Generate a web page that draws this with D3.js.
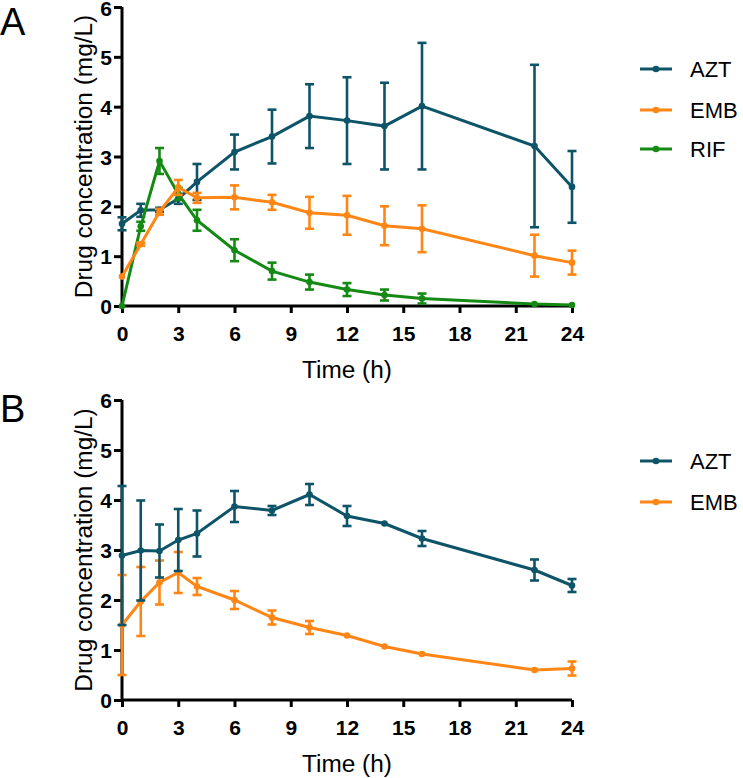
<!DOCTYPE html>
<html>
<head>
<meta charset="utf-8">
<script src="https://cdn.jsdelivr.net/npm/d3@7/dist/d3.min.js"></script>
<style>
  html, body { margin: 0; padding: 0; background: #fff; }
  svg { display: block; font-family: "Liberation Sans", Arial, sans-serif; }
</style>
</head>
<body>
<svg id="chart" width="743" height="778"></svg>
<script>
// ---------- data ----------
const times = [0, 1, 2, 3, 4, 6, 8, 10, 12, 14, 16, 22, 24];
const xTicks = [0, 3, 6, 9, 12, 15, 18, 21, 24];
const yTicks = [0, 1, 2, 3, 4, 5, 6];

// Panel A
const A_AZT_mean = [1.65, 1.92, 1.93, 2.15, 2.49, 3.09, 3.40, 3.81, 3.72, 3.61, 4.01, 3.21, 2.39];
const A_AZT_sd   = [0.13, 0.13, 0.04, 0.10, 0.36, 0.35, 0.54, 0.64, 0.87, 0.87, 1.27, 1.63, 0.72];
const A_EMB_mean = [0.59, 1.24, 1.89, 2.38, 2.17, 2.18, 2.08, 1.87, 1.82, 1.61, 1.55, 1.01, 0.87];
const A_EMB_sd   = [0.00, 0.03, 0.06, 0.15, 0.10, 0.24, 0.15, 0.32, 0.39, 0.39, 0.47, 0.42, 0.24];
const A_RIF_mean = [0.00, 1.60, 2.91, 2.25, 1.72, 1.12, 0.70, 0.48, 0.33, 0.22, 0.15, 0.04, 0.02];
const A_RIF_sd   = [0.00, 0.09, 0.26, 0.12, 0.21, 0.22, 0.17, 0.15, 0.13, 0.11, 0.10, 0.00, 0.00];

// Panel B
const B_AZT_mean = [2.89, 2.99, 2.98, 3.20, 3.33, 3.87, 3.79, 4.11, 3.68, 3.53, 3.23, 2.60, 2.29];
const B_AZT_sd   = [1.39, 1.00, 0.53, 0.62, 0.46, 0.31, 0.09, 0.21, 0.20, 0.00, 0.15, 0.21, 0.13];
const B_EMB_mean = [1.50, 1.97, 2.35, 2.55, 2.27, 2.00, 1.65, 1.45, 1.29, 1.07, 0.92, 0.60, 0.63];
const B_EMB_sd   = [1.00, 0.69, 0.44, 0.41, 0.17, 0.18, 0.14, 0.13, 0.00, 0.00, 0.00, 0.00, 0.14];

const colors = { AZT: "#0E5468", EMB: "#FF8614", RIF: "#148A14" };

const panels = [
  { label: "A", top: 7, bottom: 306, series: [
      { name: "AZT", mean: A_AZT_mean, sd: A_AZT_sd },
      { name: "EMB", mean: A_EMB_mean, sd: A_EMB_sd },
      { name: "RIF", mean: A_RIF_mean, sd: A_RIF_sd } ],
    drawOrder: ["AZT", "RIF", "EMB"],
    legendY: [69, 110, 149], labelY: 35 },
  { label: "B", top: 400, bottom: 700, series: [
      { name: "AZT", mean: B_AZT_mean, sd: B_AZT_sd },
      { name: "EMB", mean: B_EMB_mean, sd: B_EMB_sd } ],
    drawOrder: ["EMB", "AZT"],
    legendY: [461, 502], labelY: 422 }
];

const svg = d3.select("#chart");
const x = d3.scaleLinear().domain([0, 24]).range([122, 572]);
const FONT = "'Liberation Sans', Arial, sans-serif";

panels.forEach(p => {
  const y = d3.scaleLinear().domain([0, 6]).range([p.bottom, p.top]);
  const g = svg.append("g");

  // panel letter
  g.append("text").attr("x", 0).attr("y", p.labelY)
    .attr("font-size", 38).attr("fill", "#000").text(p.label);

  // axes
  const yAxis = d3.axisLeft(y).tickValues(yTicks).tickFormat(d3.format("d")).tickSize(8).tickPadding(2);
  const xAxis = d3.axisBottom(x).tickValues(xTicks).tickFormat(d3.format("d")).tickSize(7).tickPadding(13);

  const ga = g.append("g").attr("transform", `translate(${x(0)},0)`).call(yAxis);
  const gb = g.append("g").attr("transform", `translate(0,${y(0)})`).call(xAxis);
  [ga, gb].forEach(a => {
    a.attr("font-family", FONT);
    a.select(".domain").attr("stroke", "#000").attr("stroke-width", 3);
    a.selectAll(".tick line").attr("stroke", "#000").attr("stroke-width", 3);
    a.selectAll(".tick text").attr("font-size", 21).attr("font-weight", "bold")
      .attr("fill", "#000");
  });
  // keep the topmost label fully inside the page
  ga.selectAll(".tick text").attr("dy", d => (y(d) < 12 ? "0.42em" : "0.36em"));
  ga.select(".domain").attr("d", `M0,${y(6)}V${y(0)}`);
  gb.select(".domain").attr("d", `M${x(0)},0H${x(24)}`);

  // axis titles
  g.append("text")
    .attr("transform", `translate(92,${(p.top + p.bottom) / 2}) rotate(-90)`)
    .attr("text-anchor", "middle").attr("font-size", 24.4).attr("fill", "#000")
    .text("Drug concentration (mg/L)");
  g.append("text").attr("x", (x(0) + x(24)) / 2).attr("y", p.bottom + 72)
    .attr("text-anchor", "middle").attr("font-size", 24.4).attr("fill", "#000")
    .text("Time (h)");

  // series
  const line = d3.line().x(d => x(d.t)).y(d => y(d.v));
  p.drawOrder.forEach(name => {
    const s = p.series.find(q => q.name === name);
    const c = colors[name];
    const pts = times.map((t, i) => ({ t, v: s.mean[i], sd: s.sd[i] }));
    const sg = g.append("g");
    // error bars
    const eb = sg.selectAll(".eb").data(pts.filter(d => d.sd > 0)).enter().append("g");
    eb.append("line").attr("x1", d => x(d.t)).attr("x2", d => x(d.t))
      .attr("y1", d => y(d.v + d.sd)).attr("y2", d => y(d.v - d.sd))
      .attr("stroke", c).attr("stroke-width", 2.6);
    [1, -1].forEach(k => {
      eb.append("line").attr("x1", d => x(d.t) - 4.5).attr("x2", d => x(d.t) + 4.5)
        .attr("y1", d => y(d.v + k * d.sd)).attr("y2", d => y(d.v + k * d.sd))
        .attr("stroke", c).attr("stroke-width", 2.6);
    });
    sg.append("path").datum(pts).attr("d", line).attr("fill", "none")
      .attr("stroke", c).attr("stroke-width", 3);
    sg.selectAll(".pt").data(pts).enter().append("circle")
      .attr("cx", d => x(d.t)).attr("cy", d => y(d.v)).attr("r", 3.3).attr("fill", c);
  });

  // legend
  p.series.forEach((s, i) => {
    const ly = p.legendY[i];
    const lg = g.append("g");
    lg.append("line").attr("x1", 640).attr("x2", 672).attr("y1", ly).attr("y2", ly)
      .attr("stroke", colors[s.name]).attr("stroke-width", 3);
    lg.append("circle").attr("cx", 656).attr("cy", ly).attr("r", 3.3).attr("fill", colors[s.name]);
    lg.append("text").attr("x", 690).attr("y", ly + 8).attr("font-size", 22)
      .attr("fill", "#000").text(s.name);
  });
});
</script>
</body>
</html>
